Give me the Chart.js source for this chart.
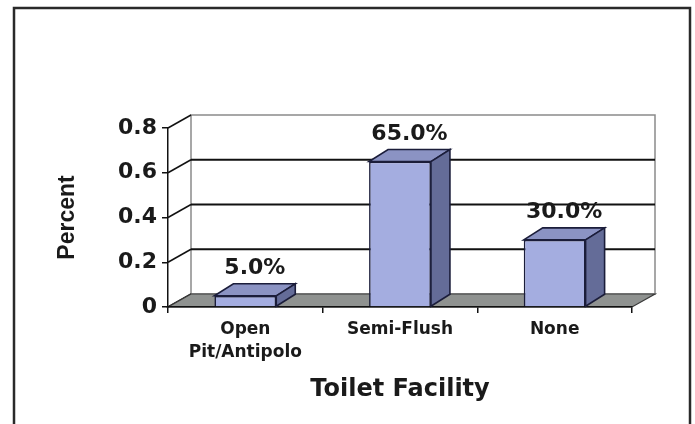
<!DOCTYPE html>
<html>
<head>
<meta charset="utf-8">
<title>Toilet Facility</title>
<script src="https://cdn.jsdelivr.net/npm/chart.js@4.4.1/dist/chart.umd.min.js"></script>
<style>
  html, body { margin: 0; padding: 0; background: #fff; }
  #wrap { width: 695px; height: 424px; }
</style>
</head>
<body>
<div id="wrap"><canvas id="toiletChart" width="695" height="424"></canvas></div>
<script>
// Toilet facility types and share of households
const categories = [['Open', 'Pit/Antipolo'], 'Semi-Flush', 'None'];
const shares = [0.05, 0.65, 0.30];
const shareLabels = ['5.0%', '65.0%', '30.0%'];
const yTicks = [0, 0.2, 0.4, 0.6, 0.8];

const FONT = "'DejaVu Sans', 'Liberation Sans', sans-serif";
const INK = '#1a1a1a';

// depth of the back wall and of the bars (pixels)
const WALL_DX = 23, WALL_DY = -13;
const BAR_DX = 19, BAR_DY = -12;

function poly(ctx, pts, fill, stroke, lw) {
    ctx.beginPath();
    ctx.moveTo(pts[0][0], pts[0][1]);
    for (let i = 1; i < pts.length; i++) ctx.lineTo(pts[i][0], pts[i][1]);
    ctx.closePath();
    if (fill) { ctx.fillStyle = fill; ctx.fill(); }
    if (stroke) { ctx.strokeStyle = stroke; ctx.lineWidth = lw || 1; ctx.stroke(); }
}

// Frame, back wall, wall gridlines and floor
const wallPlugin = {
    id: 'wall3d',
    beforeDraw(chart) {
        const ctx = chart.ctx;
        const { left, right, top, bottom } = chart.chartArea;
        const y = chart.scales.y;
        ctx.save();

        // outer frame
        ctx.strokeStyle = '#2a2a2a';
        ctx.lineWidth = 2.5;
        ctx.strokeRect(14, 8, 676, 430);

        // back wall
        poly(ctx, [
            [left + WALL_DX, top + WALL_DY], [right + WALL_DX, top + WALL_DY],
            [right + WALL_DX, bottom + WALL_DY], [left + WALL_DX, bottom + WALL_DY]
        ], '#ffffff', '#8a8a8a', 1.5);

        // gridlines on the wall plus the connectors to the front axis
        yTicks.forEach(v => {
            const py = y.getPixelForValue(v);
            if (v > 0 && v < yTicks[yTicks.length - 1]) {
                ctx.strokeStyle = '#111';
                ctx.lineWidth = 2;
                ctx.beginPath();
                ctx.moveTo(left + WALL_DX, py + WALL_DY);
                ctx.lineTo(right + WALL_DX, py + WALL_DY);
                ctx.stroke();
            }
            ctx.strokeStyle = '#111';
            ctx.lineWidth = 1.5;
            ctx.beginPath();
            ctx.moveTo(left, py);
            ctx.lineTo(left + WALL_DX, py + WALL_DY);
            ctx.stroke();
        });

        // floor
        poly(ctx, [
            [left, bottom], [right, bottom],
            [right + WALL_DX, bottom + WALL_DY], [left + WALL_DX, bottom + WALL_DY]
        ], '#8f9290', '#3a3a3a', 1.2);

        ctx.restore();
    },
    // top and side faces of each bar, then the value labels
    afterDatasetsDraw(chart) {
        const ctx = chart.ctx;
        const meta = chart.getDatasetMeta(0);
        ctx.save();
        meta.data.forEach((bar, i) => {
            const { x, y, base, width } = bar.getProps(['x', 'y', 'base', 'width'], true);
            const l = x - width / 2, r = x + width / 2;
            poly(ctx, [[l, y], [r, y], [r + BAR_DX, y + BAR_DY], [l + BAR_DX, y + BAR_DY]],
                '#8b93c3', '#1b1d3a', 1.6);
            poly(ctx, [[r, y], [r + BAR_DX, y + BAR_DY], [r + BAR_DX, base + BAR_DY], [r, base]],
                '#646c98', '#1b1d3a', 1.6);

            ctx.fillStyle = INK;
            ctx.font = 'bold 22px ' + FONT;
            ctx.textAlign = 'center';
            ctx.textBaseline = 'alphabetic';
            ctx.fillText(shareLabels[i], x + BAR_DX / 2, y + BAR_DY - 10);
        });
        ctx.restore();
    }
};

const ctx = document.getElementById('toiletChart').getContext('2d');
new Chart(ctx, {
    type: 'bar',
    data: {
        labels: categories,
        datasets: [{
            label: 'Percent',
            data: shares,
            backgroundColor: '#a4ade0',
            borderColor: '#1b1d3a',
            borderWidth: 1.6,
            barPercentage: 0.4,
            categoryPercentage: 1
        }]
    },
    options: {
        responsive: false,
        animation: false,
        devicePixelRatio: 1,
        layout: { padding: { left: 20, right: 63, top: 128, bottom: 14 } },
        plugins: {
            legend: { display: false },
            tooltip: { enabled: false }
        },
        scales: {
            x: {
                afterFit: scale => { scale.height = 103; },
                grid: { drawOnChartArea: false, offset: true, tickLength: 6, color: '#111', lineWidth: 1.5 },
                border: { display: true, color: '#111', width: 1.5 },
                ticks: {
                    color: INK, padding: 6, maxRotation: 0, autoSkip: false,
                    font: { family: FONT, weight: 'bold', size: 17, lineHeight: 1.3 }
                },
                title: {
                    display: true, text: 'Toilet Facility', color: INK,
                    font: { family: FONT, weight: 'bold', size: 24 },
                    padding: { top: 0, bottom: 6 }
                }
            },
            y: {
                min: 0,
                max: 0.8,
                afterFit: scale => { scale.width = 148; },
                afterBuildTicks: scale => { scale.ticks = yTicks.map(v => ({ value: v })); },
                grid: { drawOnChartArea: false, tickLength: 6, color: '#111', lineWidth: 1.5 },
                border: { display: true, color: '#111', width: 1.5 },
                ticks: {
                    color: INK, padding: 5,
                    font: { family: FONT, weight: 'bold', size: 22 },
                    callback: v => v === 0 ? '0' : v.toFixed(1)
                },
                title: {
                    display: true, text: 'Percent', color: INK,
                    font: { family: "'Liberation Sans', Arial, sans-serif", weight: 'bold', size: 23 },
                    padding: { top: 34, bottom: 0 }
                }
            }
        }
    },
    plugins: [wallPlugin]
});
</script>
</body>
</html>
